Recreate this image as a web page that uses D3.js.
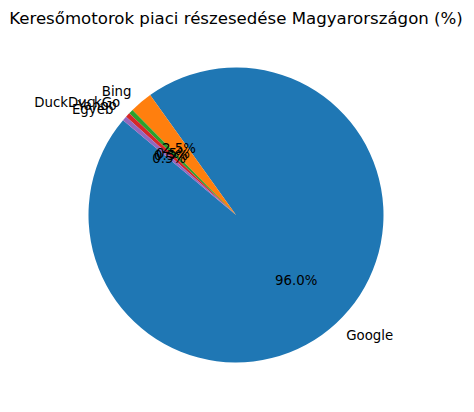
<!DOCTYPE html>
<html>
<head>
<meta charset="utf-8">
<script src="https://cdn.jsdelivr.net/npm/d3@7"></script>
<style>
  body { margin: 0; background: #fff; }
  svg { display: block; font-family: "DejaVu Sans", sans-serif; }
</style>
</head>
<body>
<div id="chart"></div>
<script>
// adatok
const categories = ["Google", "Bing", "DuckDuckGo", "Yahoo", "Egyéb"];
const shares = [96.0, 2.5, 0.5, 0.5, 0.5];
const colors = ["#1f77b4", "#ff7f0e", "#2ca02c", "#d62728", "#9467bd"];
const title = "Keresőmotorok piaci részesedése Magyarországon (%)";

const width = 474, height = 412;
const cx = 236, cy = 215, radius = 147.5;

const svg = d3.select("#chart").append("svg")
    .attr("width", width)
    .attr("height", height);

svg.append("text")
    .attr("x", 236)
    .attr("y", 24)
    .attr("text-anchor", "middle")
    .attr("font-size", 16.6)
    .attr("fill", "#000")
    .text(title);

const data = categories.map((c, i) => ({ name: c, value: shares[i], color: colors[i] }));

// matplotlib startangle=140, counterclockwise
const start = (90 - 140) * Math.PI / 180;
const pie = d3.pie()
    .value(d => d.value)
    .sort(null)
    .startAngle(start)
    .endAngle(start - 2 * Math.PI);

const arcs = pie(data);
const arc = d3.arc().innerRadius(0).outerRadius(radius);

const g = svg.append("g").attr("transform", `translate(${cx},${cy})`);

g.selectAll("path")
    .data(arcs)
    .join("path")
    .attr("d", arc)
    .attr("fill", d => d.data.color);

const mid = d => (d.startAngle + d.endAngle) / 2;

// kategória címkék (1.1r)
g.selectAll("text.label")
    .data(arcs)
    .join("text")
    .attr("class", "label")
    .attr("x", d => 1.1 * radius * Math.sin(mid(d)))
    .attr("y", d => -1.1 * radius * Math.cos(mid(d)) + 1)
    .attr("text-anchor", d => Math.sin(mid(d)) < 0 ? "end" : "start")
    .attr("dominant-baseline", "central")
    .attr("font-size", 13.33)
    .attr("fill", "#000")
    .text(d => d.data.name);

// százalékok (0.6r)
g.selectAll("text.pct")
    .data(arcs)
    .join("text")
    .attr("class", "pct")
    .attr("x", d => 0.6 * radius * Math.sin(mid(d)))
    .attr("y", d => -0.6 * radius * Math.cos(mid(d)) + 1)
    .attr("text-anchor", "middle")
    .attr("dominant-baseline", "central")
    .attr("font-size", 13.33)
    .attr("fill", "#000")
    .text(d => d.data.value.toFixed(1) + "%");
</script>
</body>
</html>
